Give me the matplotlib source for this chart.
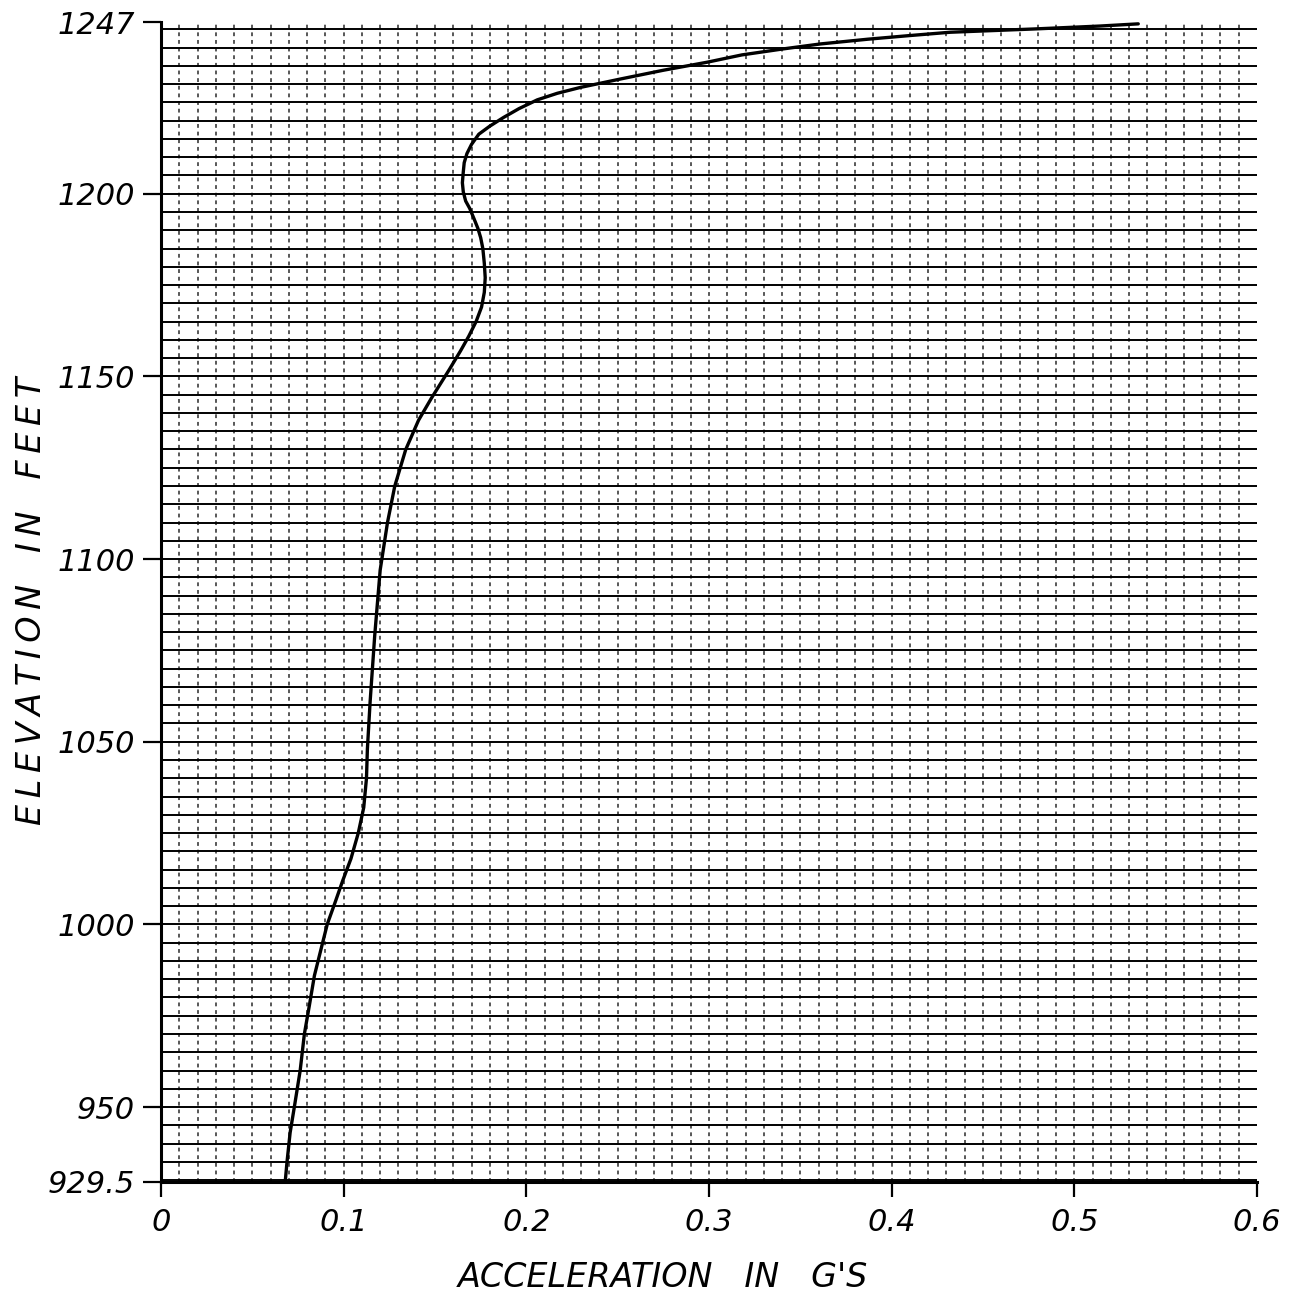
"""Acceleration profile vs elevation, redrawn from a hand-plotted graph-paper chart."""

import matplotlib
matplotlib.use("Agg")
import matplotlib.pyplot as plt
from matplotlib.ticker import MultipleLocator, FixedLocator
import numpy as np

# values
elevation_ft = [
    929.5, 935, 943, 950, 960, 970, 978, 986, 994, 1000,
    1006, 1012, 1018, 1025, 1032, 1040, 1048, 1061, 1079, 1097,
    1110, 1120, 1130, 1138, 1144, 1148, 1152, 1157, 1161, 1165,
    1169, 1173, 1177, 1181, 1185, 1188, 1190.5, 1193, 1196, 1198,
    1200.5, 1203, 1206, 1208.5, 1211, 1213.5, 1216.3, 1218.5, 1220.9, 1223.3,
    1225.7, 1227.5, 1229.1, 1231.4, 1233.8, 1236, 1238, 1239.6, 1241, 1242.3,
    1243.3, 1244.2, 1245.1, 1245.9, 1246.5,
]
accel_g = [
    0.068, 0.069, 0.0707, 0.073, 0.0762, 0.0785, 0.0813, 0.084, 0.088, 0.091,
    0.0953, 0.0995, 0.104, 0.108, 0.111, 0.1125, 0.113, 0.1145, 0.117, 0.120,
    0.124, 0.128, 0.134, 0.141, 0.148, 0.153, 0.158, 0.164, 0.1685, 0.1725,
    0.1755, 0.177, 0.1775, 0.177, 0.1762, 0.175, 0.1735, 0.1715, 0.169, 0.1668,
    0.1655, 0.165, 0.1655, 0.166, 0.1675, 0.170, 0.174, 0.180, 0.1876, 0.196,
    0.206, 0.217, 0.2296, 0.2515, 0.275, 0.299, 0.318, 0.340, 0.361, 0.387,
    0.410, 0.432, 0.478, 0.514, 0.535,
]

y_ticks = [929.5, 950, 1000, 1050, 1100, 1150, 1200, 1247]
y_ticklabels = ["929.5", "950", "1000", "1050", "1100", "1150", "1200", "1247"]
x_ticks = [0, 0.1, 0.2, 0.3, 0.4, 0.5, 0.6]
x_ticklabels = ["0", "0.1", "0.2", "0.3", "0.4", "0.5", "0.6"]

fig = plt.figure(figsize=(12.94, 13.11), dpi=100)
ax = fig.add_axes([0.1244, 0.0984, 0.847, 0.8848])

ax.plot(accel_g, elevation_ft, color="black", lw=2.4, solid_joinstyle="round",
        solid_capstyle="round", zorder=5)

ax.set_xlim(0, 0.6)
ax.set_ylim(929.5, 1247)

# graph paper: solid rules every 5 ft, dashed rules every 0.01 g
ax.xaxis.remove_overlapping_locs = False
ax.yaxis.remove_overlapping_locs = False
ax.xaxis.set_minor_locator(FixedLocator(np.arange(0.01, 0.595, 0.01)))
ax.yaxis.set_minor_locator(MultipleLocator(5))
ax.grid(False)
ax.grid(which="minor", axis="y", color="black", lw=1.4)
ax.grid(which="minor", axis="x", color="#2a2a2a", lw=1.1, linestyle=(0, (2.5, 2.5)))
ax.tick_params(which="minor", length=0)

ax.set_xticks(x_ticks)
ax.set_xticklabels(x_ticklabels)
ax.set_yticks(y_ticks)
ax.set_yticklabels(y_ticklabels)
ax.tick_params(which="major", direction="out", width=1.6, color="black")
ax.tick_params(axis="y", which="major", length=13, pad=6, labelsize=22)
ax.tick_params(axis="x", which="major", length=11, pad=8, labelsize=22)
for lab in ax.get_xticklabels() + ax.get_yticklabels():
    lab.set_fontstyle("italic")

for side in ("top", "right"):
    ax.spines[side].set_visible(False)
for side in ("left", "bottom"):
    ax.spines[side].set_linewidth(2.2)

thin = "\u2009"
ylabel = "   ".join(thin.join(w) for w in ["ELEVATION", "IN", "FEET"])
fig.text(0.512, 0.013, "ACCELERATION   IN   G'S", ha="center", va="bottom",
         fontsize=24, fontstyle="italic")
fig.text(0.024, 0.542, ylabel, ha="center", va="center",
         rotation=90, fontsize=24, fontstyle="italic")

fig.savefig("out.png", dpi=100, facecolor="white")
